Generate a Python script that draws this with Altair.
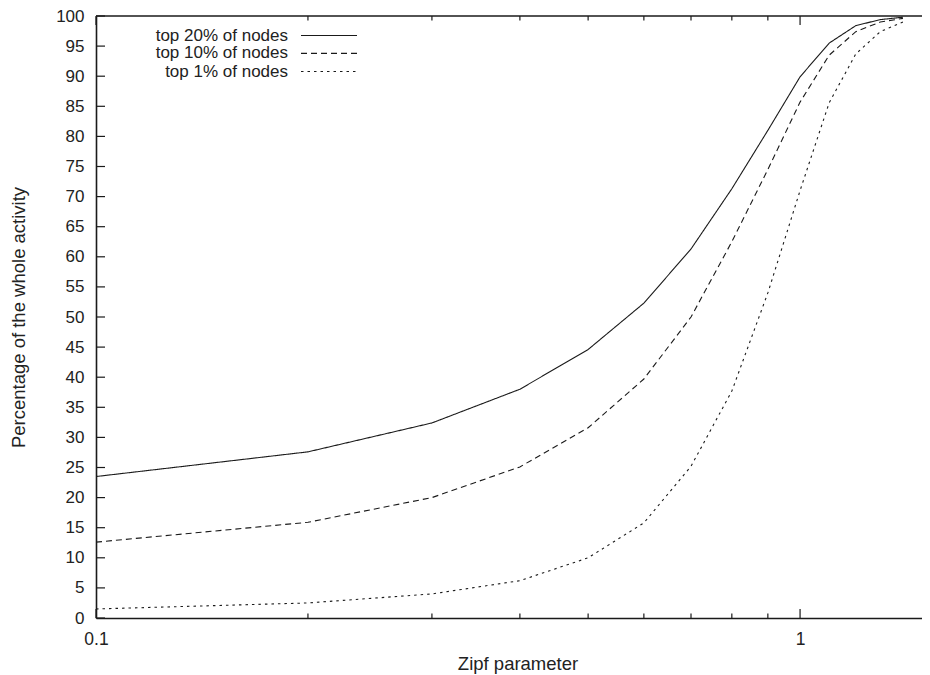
import altair as alt
import pandas as pd

# ---- data ----
zipf = [0.1, 0.2, 0.3, 0.4, 0.5, 0.6, 0.7, 0.8, 0.9, 1.0, 1.1, 1.2, 1.3, 1.4]
top20 = [23.5, 27.6, 32.4, 38.0, 44.6, 52.3, 61.3, 71.3, 81.0, 89.9, 95.5, 98.4, 99.4, 99.8]
top10 = [12.6, 15.9, 20.0, 25.1, 31.6, 39.7, 50.0, 62.5, 74.5, 85.7, 93.5, 97.4, 99.0, 99.6]
top1 = [1.5, 2.5, 4.0, 6.2, 10.0, 15.8, 25.2, 37.7, 54.0, 71.0, 85.6, 93.7, 97.4, 99.0]
series_names = ["top 20% of nodes", "top 10% of nodes", "top 1% of nodes"]
y_ticks = list(range(0, 101, 5))
x_major = [0.1, 1.0]
x_minor = [0.2, 0.3, 0.4, 0.5, 0.6, 0.7, 0.8, 0.9]

# ---- styling ----
dashes = [[1, 0], [6, 4], [2.5, 4]]
FONT = "Liberation Sans"
INK = "#1a1a1a"
W, H = 826, 602

rows = []
for name, vals in zip(series_names, [top20, top10, top1]):
    for x, v in zip(zipf, vals):
        rows.append({"zipf": x, "pct": v, "series": name})
df = pd.DataFrame(rows)

xscale = alt.Scale(type="log", domain=[0.1, 1.49], nice=False)
yscale = alt.Scale(domain=[0, 100], nice=False)
dash_scale = alt.Scale(domain=series_names, range=dashes)

x_axis = alt.Axis(
    orient="bottom",
    values=x_major,
    format="~g",
    ticks=False,
    tickSize=0,
    grid=False,
    labelFlush=False,
    labelPadding=12,
    labelFontSize=17.5,
    title="Zipf parameter",
    titleFontSize=18.5,
    titleX=421.5,
    titleY=45,
    titleAlign="center",
    titleBaseline="middle",
)
y_axis = alt.Axis(
    orient="left",
    values=y_ticks,
    ticks=False,
    tickSize=0,
    grid=False,
    labelFlush=False,
    labelPadding=12,
    labelFontSize=17,
    title="Percentage of the whole activity",
    titleFontSize=18.5,
    titleAngle=270,
    titleX=-78,
    titleY=301,
    titleAlign="center",
    titleBaseline="middle",
)

lines = alt.Chart(df).mark_line(color=INK, strokeWidth=1.1).encode(
    x=alt.X("zipf:Q", scale=xscale, axis=x_axis),
    y=alt.Y("pct:Q", scale=yscale, axis=y_axis),
    strokeDash=alt.StrokeDash("series:N", scale=dash_scale, legend=None),
)

ytick_df = pd.DataFrame({"v": y_ticks})
ytick_layer = alt.Chart(ytick_df).mark_rule(color=INK, strokeWidth=1.2).encode(
    y=alt.Y("v:Q", scale=yscale, axis=y_axis),
    x=alt.value(0),
    x2=alt.value(9),
)

major_df = pd.DataFrame({"v": x_major})
minor_df = pd.DataFrame({"v": x_minor})


def xticks(data, y0, y1):
    return alt.Chart(data).mark_rule(color=INK, strokeWidth=1.2).encode(
        x=alt.X("v:Q", scale=xscale, axis=x_axis), y=alt.value(y0), y2=alt.value(y1)
    )


bottom_major = xticks(major_df, H, H - 9)
bottom_minor = xticks(minor_df, H, H - 4.5)
top_major = xticks(major_df, 0, 9)
top_minor = xticks(minor_df, 0, 4.5)

# top border of the frame
top_border = alt.Chart(major_df.head(1)).mark_rule(color=INK, strokeWidth=1.6).encode(
    x=alt.value(0), x2=alt.value(W), y=alt.value(0)
)

# ---- gnuplot-style key (label, then line sample to its right) ----
key_rows_y = [19.5, 37.4, 55.5]
key_layers = []
for name, dash, ky in zip(series_names, dashes, key_rows_y):
    kdf = pd.DataFrame({"label": [name]})
    key_layers.append(
        alt.Chart(kdf).mark_text(
            align="right", baseline="middle", font=FONT, fontSize=17, color="#222"
        ).encode(text="label:N", x=alt.value(192), y=alt.value(ky))
    )
    key_layers.append(
        alt.Chart(kdf).mark_rule(color=INK, strokeWidth=1.1, strokeDash=dash).encode(
            x=alt.value(205), x2=alt.value(261), y=alt.value(ky)
        )
    )

chart = alt.layer(
    lines, ytick_layer, bottom_major, bottom_minor, top_major, top_minor, top_border, *key_layers
).properties(
    width=W,
    height=H,
    autosize=alt.AutoSizeParams(type="none"),
    padding={"left": 88, "top": 8, "right": 0, "bottom": 57},
).configure_view(stroke=None).configure_axis(
    domainColor=INK,
    domainWidth=1.6,
    labelColor="#222",
    labelFont=FONT,
    titleFont=FONT,
    titleColor="#222",
    titleFontWeight="normal",
)

chart.save("out.html", embed_options={"renderer": "svg", "actions": False})
